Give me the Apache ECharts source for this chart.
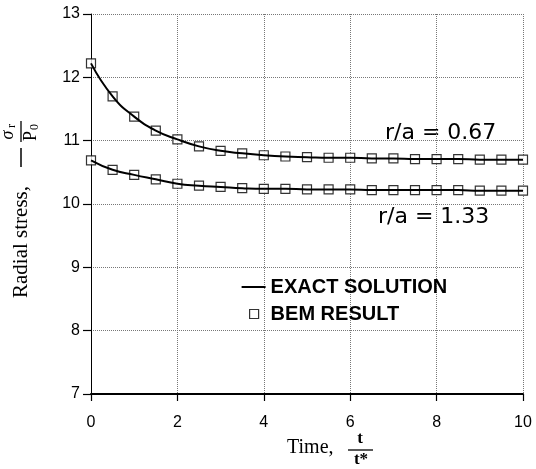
<!DOCTYPE html>
<html>
<head>
<meta charset="utf-8">
<script src="https://cdn.jsdelivr.net/npm/echarts@6/dist/echarts.min.js"></script>
<style>
  html, body { margin: 0; padding: 0; background: #fff; }
  #main { width: 536px; height: 469px; }
</style>
</head>
<body>
<div id="main"></div>
<script>
// time values t/t*
var times = [0, 0.5, 1, 1.5, 2, 2.5, 3, 3.5, 4, 4.5, 5, 5.5, 6, 6.5, 7, 7.5, 8, 8.5, 9, 9.5, 10];
// -sigma_r/P0, r/a = 0.67
var upper = [12.22, 11.70, 11.38, 11.16, 11.02, 10.91, 10.84, 10.80, 10.77, 10.75, 10.74,
             10.73, 10.73, 10.72, 10.72, 10.71, 10.71, 10.71, 10.70, 10.70, 10.70];
// -sigma_r/P0, r/a = 1.33
var lower = [10.69, 10.54, 10.46, 10.39, 10.32, 10.29, 10.27, 10.25, 10.24, 10.24, 10.23,
             10.23, 10.23, 10.22, 10.22, 10.22, 10.22, 10.22, 10.21, 10.21, 10.21];
var xTicks = [0, 2, 4, 6, 8, 10];
var yTicks = [7, 8, 9, 10, 11, 12, 13];

function pairs(ys) {
    return times.map(function (t, i) { return [t, ys[i]]; });
}

var myChart = echarts.init(document.getElementById('main'));

var lineStyle = { color: '#000', width: 2 };
var squareStyle = { color: '#fff', borderColor: '#000', borderWidth: 1.2 };

option = {
    animation: false,
    backgroundColor: '#fff',
    grid: { left: 91, right: 13, top: 14, bottom: 75 },
    legend: {
        orient: 'vertical',
        left: 236,
        top: 272,
        itemWidth: 24,
        itemHeight: 10,
        itemGap: 7,
        textStyle: { fontFamily: 'Liberation Sans', fontSize: 20, fontWeight: 'bold', color: '#000' },
        data: [
            { name: 'EXACT SOLUTION', icon: 'path://M0,0 M0,4H24V6H0Z M24,10',
              itemStyle: { color: '#000', borderWidth: 0 } },
            { name: 'BEM RESULT', icon: 'path://M0,0 M8,0.5H17V9.5H8Z M24,10',
              itemStyle: { color: '#fff', borderColor: '#000', borderWidth: 1.2 } }
        ]
    },
    xAxis: {
        type: 'value',
        min: xTicks[0],
        max: xTicks[xTicks.length - 1],
        interval: 2,
        axisLine: { lineStyle: { color: '#000', width: 2 } },
        axisTick: { length: 7, lineStyle: { color: '#000', width: 1.2 } },
        axisLabel: { margin: 21, fontFamily: 'Liberation Sans', fontSize: 16, color: '#000' },
        splitLine: { show: true, lineStyle: { type: 'dotted', color: '#777', width: 1 } }
    },
    yAxis: {
        type: 'value',
        min: yTicks[0],
        max: yTicks[yTicks.length - 1],
        interval: 1,
        axisLine: { show: true, lineStyle: { color: '#000', width: 1 } },
        axisTick: { show: true, length: 8, lineStyle: { color: '#000', width: 1.2 } },
        axisLabel: { margin: 11, fontFamily: 'Liberation Sans', fontSize: 16, color: '#000' },
        splitLine: { show: true, lineStyle: { type: 'dotted', color: '#777', width: 1 } }
    },
    series: [
        { name: 'EXACT SOLUTION', type: 'line', smooth: true, symbol: 'none', z: 3,
          lineStyle: lineStyle, itemStyle: { color: '#000' }, data: pairs(upper) },
        { name: 'EXACT SOLUTION', type: 'line', smooth: true, symbol: 'none', z: 3,
          lineStyle: lineStyle, itemStyle: { color: '#000' }, data: pairs(lower) },
        { name: 'BEM RESULT', type: 'scatter', symbol: 'rect', symbolSize: 9, z: 2,
          itemStyle: squareStyle, data: pairs(upper) },
        { name: 'BEM RESULT', type: 'scatter', symbol: 'rect', symbolSize: 9, z: 2,
          itemStyle: squareStyle, data: pairs(lower) }
    ],
    graphic: [
        // curve labels
        { type: 'text', x: 385, y: 133, style: { text: 'r/a = 0.67', font: "22px 'DejaVu Sans'", fill: '#000', textVerticalAlign: 'middle' } },
        { type: 'text', x: 378, y: 217, style: { text: 'r/a = 1.33', font: "22px 'DejaVu Sans'", fill: '#000', textVerticalAlign: 'middle' } },
        // y axis title (rotated)
        { type: 'text', x: 21, y: 242, rotation: Math.PI / 2,
          style: { text: 'Radial stress,', font: "21px 'Liberation Serif'", fill: '#000', textAlign: 'center', textVerticalAlign: 'middle' } },
        { type: 'line', shape: { x1: 21, y1: 148, x2: 21, y2: 167 }, style: { stroke: '#000', lineWidth: 1.5 } },
        { type: 'line', shape: { x1: 21, y1: 121, x2: 21, y2: 142 }, style: { stroke: '#000', lineWidth: 1.3 } },
        { type: 'text', x: 8, y: 135, rotation: Math.PI / 2,
          style: { text: 'σ', font: "italic 18px 'Liberation Serif'", fill: '#000', textAlign: 'center', textVerticalAlign: 'middle' } },
        { type: 'text', x: 12, y: 126, rotation: Math.PI / 2,
          style: { text: 'r', font: "12px 'Liberation Serif'", fill: '#000', textAlign: 'center', textVerticalAlign: 'middle' } },
        { type: 'text', x: 31, y: 136, rotation: Math.PI / 2,
          style: { text: 'P', font: "18px 'Liberation Serif'", fill: '#000', textAlign: 'center', textVerticalAlign: 'middle' } },
        { type: 'text', x: 35, y: 127, rotation: Math.PI / 2,
          style: { text: '0', font: "12px 'Liberation Serif'", fill: '#000', textAlign: 'center', textVerticalAlign: 'middle' } },
        // x axis title
        { type: 'text', x: 287, y: 448,
          style: { text: 'Time,', font: "20px 'Liberation Serif'", fill: '#000', textVerticalAlign: 'middle' } },
        { type: 'line', shape: { x1: 348, y1: 450, x2: 373, y2: 450 }, style: { stroke: '#000', lineWidth: 1.3 } },
        { type: 'text', x: 360, y: 439,
          style: { text: 't', font: "bold 17px 'Liberation Serif'", fill: '#000', textAlign: 'center', textVerticalAlign: 'middle' } },
        { type: 'text', x: 361, y: 460,
          style: { text: 't*', font: "bold 17px 'Liberation Serif'", fill: '#000', textAlign: 'center', textVerticalAlign: 'middle' } }
    ]
};

myChart.setOption(option);
</script>
</body>
</html>
